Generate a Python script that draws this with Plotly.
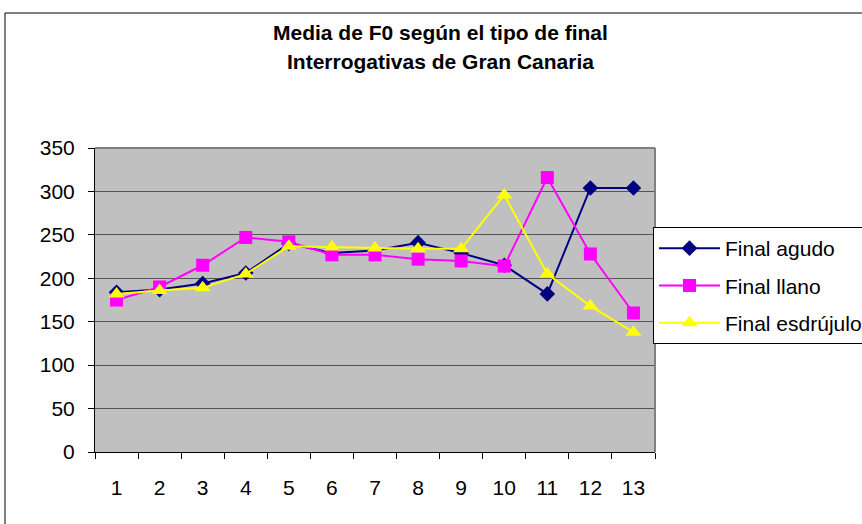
import plotly.graph_objects as go

categories = [str(i) for i in range(1, 14)]
final_agudo = [184, 187, 194, 206, 240, 229, 232, 241, 229, 215, 182, 304, 304]
final_llano = [175, 190, 215, 247, 242, 227, 227, 222, 220, 214, 316, 228, 160]
final_esdrujulo = [182, 186, 189, 205, 237, 236, 235, 234, 234, 296, 205, 168, 138]
y_ticks = [0, 50, 100, 150, 200, 250, 300, 350]

FONT = "Liberation Sans, Arial, sans-serif"

fig = go.Figure()
series = [
    ("Final agudo", final_agudo, "#000080", "diamond", 12),
    ("Final llano", final_llano, "#FF00FF", "square", 13),
    ("Final esdrújulo", final_esdrujulo, "#FFFF00", "triangle-up", 14),
]
for name, vals, col, sym, sz in series:
    fig.add_trace(go.Scatter(
        x=categories, y=vals, name=name, mode="lines+markers",
        line=dict(color=col, width=2),
        marker=dict(color=col, symbol=sym, size=sz, line=dict(width=0)),
        legendgroup=name,
    ))

L, R, T, B = 95, 655, 148, 452
W, H = 862, 524
pw, ph = R - L, B - T

def px(x):
    return (x - L) / pw

def py(y):
    return (B - y) / ph

fig.update_layout(
    width=W, height=H,
    margin=dict(l=L, r=W - R, t=T, b=H - B, autoexpand=False),
    paper_bgcolor="white",
    plot_bgcolor="#C0C0C0",
    font=dict(family=FONT, size=20, color="black"),
    showlegend=True,
    legend=dict(
        x=px(653), y=py(227), xanchor="left", yanchor="top",
        bgcolor="white", bordercolor="black", borderwidth=1,
        font=dict(family=FONT, size=21, color="black"),
        tracegroupgap=7,
        itemwidth=61,
    ),
    xaxis=dict(
        type="category", tickson="boundaries",
        range=[-0.5, len(categories) - 0.5],
        ticks="outside", ticklen=6, tickcolor="black",
        showline=True, linecolor="black", linewidth=1,
        showgrid=False, zeroline=False,
        ticklabelstandoff=17,
        tickfont=dict(family=FONT, size=21, color="black"),
        fixedrange=True,
    ),
    yaxis=dict(
        range=[0, 350], tickvals=y_ticks,
        ticks="outside", ticklen=6, tickcolor="black",
        showline=True, linecolor="black", linewidth=1,
        showgrid=True, gridcolor="#555555", gridwidth=1,
        zeroline=False,
        tickfont=dict(family=FONT, size=21, color="black"),
        ticklabelstandoff=9,
    ),
    shapes=[
        dict(type="rect", xref="paper", yref="paper",
             x0=px(5), x1=px(880), y0=py(540), y1=py(13),
             line=dict(color="black", width=1), fillcolor="rgba(0,0,0,0)", layer="below"),
        dict(type="line", xref="paper", yref="paper",
             x0=0, x1=1, y0=1, y1=1, line=dict(color="#808080", width=2)),
        dict(type="line", xref="paper", yref="paper",
             x0=1, x1=1, y0=0, y1=1, line=dict(color="#808080", width=2)),
    ],
    annotations=[
        dict(text="<b>Media de F0 según el tipo de final</b>", xref="paper", yref="paper",
             x=px(440), y=py(33), xanchor="center", yanchor="middle", showarrow=False,
             font=dict(family=FONT, size=21, color="black")),
        dict(text="<b>Interrogativas de Gran Canaria</b>", xref="paper", yref="paper",
             x=px(440), y=py(62), xanchor="center", yanchor="middle", showarrow=False,
             font=dict(family=FONT, size=21, color="black")),
    ],
)

fig.write_html("out.html", config={"displayModeBar": False},
               post_script="document.body.style.margin='0px';")
